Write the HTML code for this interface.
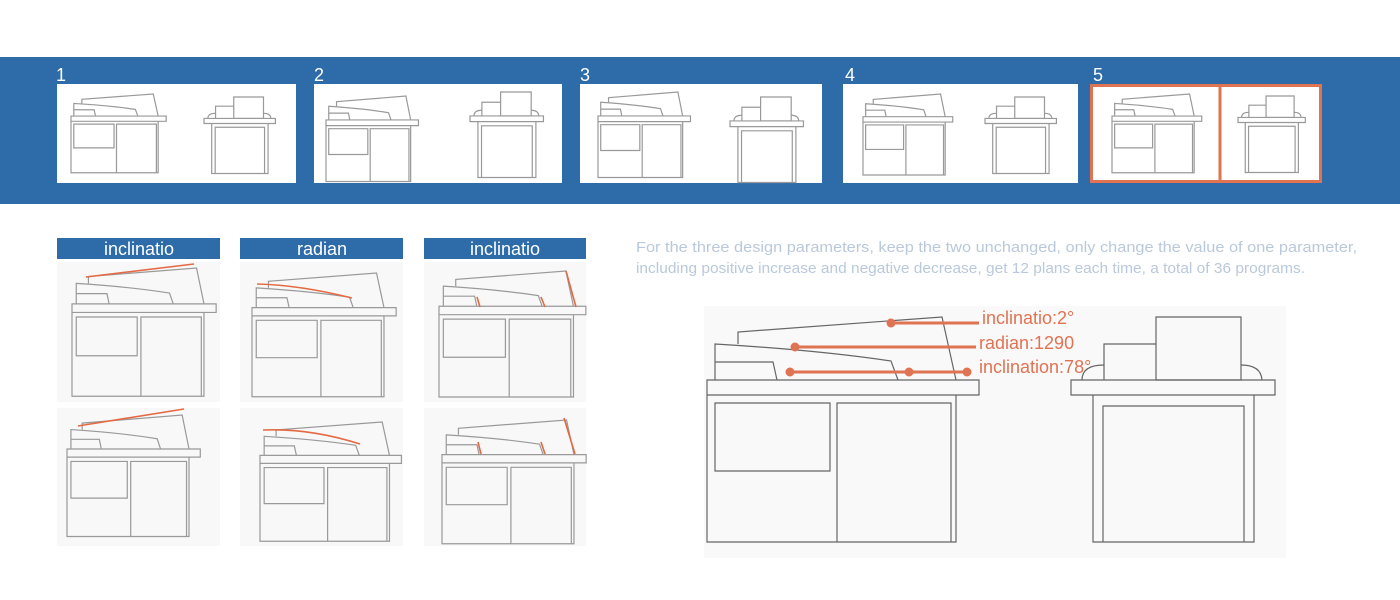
<!DOCTYPE html>
<html><head><meta charset="utf-8"><style>
html,body{margin:0;padding:0;background:#fff;width:1400px;height:600px;overflow:hidden}
svg{display:block}
</style></head><body>
<svg width="1400" height="600" viewBox="0 0 1400 600" xmlns="http://www.w3.org/2000/svg" font-family="Liberation Sans, sans-serif">
<defs>
<g id="side" fill="none" stroke-width="1.2">
  <rect x="0" y="63" width="272" height="15" vector-effect="non-scaling-stroke"/>
  <polyline points="0,78 0,225 249,225 249,78" vector-effect="non-scaling-stroke"/>
  <rect x="8" y="86" width="115" height="68" vector-effect="non-scaling-stroke"/>
  <polyline points="130,225 130,86 244,86 244,225" vector-effect="non-scaling-stroke"/>
  <polyline points="31,27 31,15 235,0 249,63" vector-effect="non-scaling-stroke"/>
  <path d="M8,63 L8,27 Q110,33 184,44 L191,63" vector-effect="non-scaling-stroke"/>
  <polyline points="8,45 66,45 70,63" vector-effect="non-scaling-stroke"/>
</g>
<g id="front" fill="none" stroke-width="1.2">
  <rect x="0" y="63" width="204" height="15" vector-effect="non-scaling-stroke"/>
  <polyline points="22,78 22,225 183,225 183,78" vector-effect="non-scaling-stroke"/>
  <polyline points="32,225 32,89 173,89 173,225" vector-effect="non-scaling-stroke"/>
  <rect x="85" y="0" width="85" height="63" vector-effect="non-scaling-stroke"/>
  <polyline points="33,63 33,27 85,27" vector-effect="non-scaling-stroke"/>
  <path d="M11,63 Q11,48 33,48 M170,48 Q190,48 191,63" vector-effect="non-scaling-stroke"/>
</g>
</defs>

<!-- banner -->
<rect x="0" y="57" width="1400" height="147" fill="#2d6ca8"/>
<g fill="#fff" font-size="18">
<text x="56" y="81">1</text><text x="314" y="81">2</text><text x="580" y="81">3</text><text x="845" y="81">4</text><text x="1093" y="81">5</text>
</g>
<g fill="#fff">
<rect x="57" y="84" width="239" height="99"/>
<rect x="314" y="84" width="248" height="99"/>
<rect x="580" y="84" width="242" height="99"/>
<rect x="843" y="84" width="235" height="99"/>
<rect x="1090" y="84" width="232" height="99"/>
</g>
<rect x="1091.5" y="85.5" width="229" height="96" fill="none" stroke="#e07352" stroke-width="3"/>
<line x1="1220" y1="84" x2="1220" y2="183" stroke="#e07352" stroke-width="3"/>
<g stroke="#999">
<use href="#side" transform="translate(71,94) scale(0.35,0.35)"/>
<use href="#front" transform="translate(204,97) scale(0.35,0.34)"/>
<use href="#side" transform="translate(326,96) scale(0.34,0.38)"/>
<use href="#front" transform="translate(470,92) scale(0.36,0.38)"/>
<use href="#side" transform="translate(598,92) scale(0.34,0.38)"/>
<use href="#front" transform="translate(730,97) scale(0.36,0.38)"/>
<use href="#side" transform="translate(863,94) scale(0.33,0.36)"/>
<use href="#front" transform="translate(985,97) scale(0.35,0.34)"/>
<use href="#side" transform="translate(1112,94) scale(0.33,0.35)"/>
<use href="#front" transform="translate(1238,96) scale(0.33,0.34)"/>
</g>

<!-- headers -->
<g fill="#2d6ca8">
<rect x="57" y="238" width="163" height="21"/>
<rect x="240" y="238" width="163" height="21"/>
<rect x="424" y="238" width="162" height="21"/>
</g>
<g fill="#fff" font-size="18" text-anchor="middle">
<text x="139" y="255">inclinatio</text>
<text x="322" y="255">radian</text>
<text x="505" y="255">inclinatio</text>
</g>
<g fill="#f8f8f8">
<rect x="57" y="262" width="163" height="140"/>
<rect x="240" y="262" width="163" height="140"/>
<rect x="424" y="262" width="162" height="140"/>
<rect x="57" y="408" width="163" height="138"/>
<rect x="240" y="408" width="163" height="138"/>
<rect x="424" y="408" width="162" height="138"/>
</g>

<g stroke="#999">
<use href="#side" transform="translate(72,268) scale(0.53,0.57)"/>
<use href="#side" transform="translate(67,415) scale(0.49,0.54)"/>
<use href="#side" transform="translate(252,273) scale(0.53,0.55)"/>
<use href="#side" transform="translate(260,422) scale(0.52,0.53)"/>
<use href="#side" transform="translate(439,271) scale(0.54,0.56)"/>
<use href="#side" transform="translate(442,420) scale(0.53,0.55)"/>
</g>
<g stroke="#e46a44" stroke-width="1.6" fill="none">
<line x1="86" y1="277" x2="194" y2="264"/>
<line x1="78" y1="426" x2="184" y2="409"/>
<path d="M257,284 Q300,285 352,298"/>
<path d="M263,430 Q310,428 360,444"/>
<line x1="566" y1="271" x2="576" y2="307"/>
<line x1="477" y1="297" x2="480" y2="307"/>
<line x1="541" y1="297" x2="545" y2="307"/>
<line x1="564" y1="418" x2="575" y2="454"/>
<line x1="478" y1="442" x2="481" y2="454"/>
<line x1="541" y1="442" x2="545" y2="454"/>
</g>

<!-- paragraph -->
<g fill="#b9c9db" font-size="15">
<text x="636" y="252" textLength="721" lengthAdjust="spacingAndGlyphs">For the three design parameters, keep the two unchanged, only change the value of one parameter,</text>
<text x="636" y="273" textLength="669" lengthAdjust="spacingAndGlyphs">including positive increase and negative decrease, get 12 plans each time, a total of 36 programs.</text>
</g>

<!-- big drawing -->
<rect x="704" y="306" width="582" height="252" fill="#f9f9f9"/>
<g stroke="#666">
<use href="#side" transform="translate(707,317)"/>
<use href="#front" transform="translate(1071,317)"/>
</g>
<g stroke="#e07352" stroke-width="3" fill="#e07352">
<line x1="891" y1="323" x2="979" y2="323"/>
<circle cx="891" cy="323" r="4.5" stroke="none"/>
<line x1="795" y1="347" x2="976" y2="347"/>
<circle cx="795" cy="347" r="4.5" stroke="none"/>
<line x1="790" y1="372" x2="967" y2="372"/>
<circle cx="790" cy="372" r="4.5" stroke="none"/>
<circle cx="909" cy="372" r="4.5" stroke="none"/>
<circle cx="967" cy="372" r="4.5" stroke="none"/>
</g>
<g fill="#e07352" font-size="18">
<text x="982" y="324">inclinatio:2°</text>
<text x="979" y="349">radian:1290</text>
<text x="979" y="373">inclination:78°</text>
</g>
</svg>
</body></html>
